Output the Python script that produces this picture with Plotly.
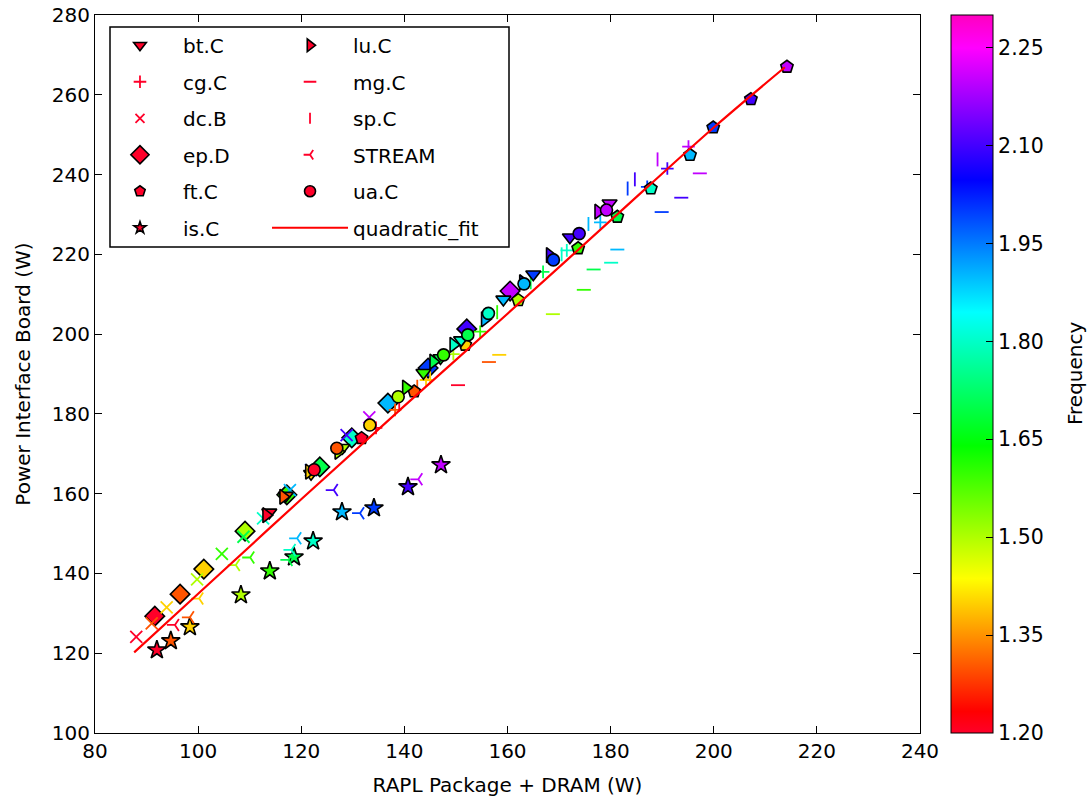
import plotly.graph_objects as go

# ---------------- data ----------------
FREQ = [1.2, 1.3, 1.4, 1.5, 1.6, 1.7, 1.8, 1.9, 2.0, 2.1, 2.2]

bt_x = [113.8, 117.0, 121.9, 128.0, 143.7, 147.0, 151.0, 159.2, 165.0, 172.1, 179.8]
bt_y = [155.3, 159.5, 165.0, 171.5, 190.3, 194.0, 198.5, 208.7, 215.0, 224.3, 232.8]

cg_x = [134.5, 138.2, 144.2, 149.5, 154.7, 166.9, 171.5, 178.0, 187.1, 191.0, 195.1]
cg_y = [176.5, 181.0, 188.5, 195.0, 200.6, 215.6, 221.0, 228.0, 236.9, 241.5, 247.0]

dc_x = [88.0, 91.0, 93.9, 99.8, 104.6, 108.8, 112.6, 117.8, 121.9, 128.8, 133.2]
dc_y = [124.1, 127.5, 131.5, 138.5, 144.9, 149.2, 153.8, 160.9, 165.9, 174.7, 179.1]

ep_x = [91.6, 96.5, 101.1, 109.1, 117.2, 123.6, 129.8, 136.8, 144.6, 152.1, 160.5]
ep_y = [129.3, 134.8, 141.1, 150.6, 159.7, 166.7, 174.0, 182.7, 191.5, 201.3, 210.8]

ft_x = [131.7, 141.9, 151.8, 162.1, 173.7, 181.3, 187.8, 195.4, 199.9, 207.2, 214.2]
ft_y = [173.9, 185.6, 197.3, 208.5, 221.5, 229.4, 236.5, 244.9, 251.8, 258.9, 267.0]

is_x = [92.0, 94.7, 98.4, 108.3, 113.9, 118.6, 122.3, 127.9, 134.1, 140.7, 147.1]
is_y = [120.8, 123.1, 126.6, 134.6, 140.6, 144.1, 148.1, 155.4, 156.4, 161.7, 167.2]

lu_x = [113.2, 116.5, 121.5, 127.2, 140.3, 145.6, 149.5, 155.6, 163.0, 168.2, 177.6]
lu_y = [154.6, 159.2, 165.5, 170.5, 186.6, 193.1, 197.3, 203.7, 213.0, 219.8, 230.7]

mg_x = [150.4, 156.4, 158.4, 168.8, 174.8, 176.7, 180.1, 181.3, 189.9, 193.7, 197.3]
mg_y = [187.2, 193.0, 194.8, 205.0, 211.1, 216.2, 217.9, 221.2, 230.6, 234.2, 240.3]

sp_x = [139.0, 142.5, 145.0, 152.5, 158.0, 164.5, 170.5, 175.7, 183.3, 184.7, 189.1]
sp_y = [182.3, 186.8, 189.2, 198.8, 205.5, 213.0, 220.0, 227.6, 236.5, 238.8, 243.8]

stream_x = [95.5, 98.4, 100.2, 107.3, 110.1, 117.5, 118.1, 119.2, 131.4, 126.3, 142.7]
stream_y = [127.1, 129.0, 133.7, 142.1, 144.0, 143.4, 145.9, 148.8, 155.1, 160.9, 163.6]

ua_x = [122.5, 126.9, 133.3, 138.8, 147.6, 152.3, 156.3, 163.2, 168.9, 173.9, 179.2]
ua_y = [166.0, 171.4, 177.2, 184.3, 194.8, 199.8, 205.2, 212.6, 218.6, 225.2, 231.1]

fit_x = [87.6, 100, 120, 140, 160, 180, 200, 213.8]
fit_y = [120.2, 134.9, 158.6, 182.0, 205.1, 228.5, 251.8, 266.9]

CB_TICKS = [1.20, 1.35, 1.50, 1.65, 1.80, 1.95, 2.10, 2.25]

# gist_rainbow
GIST_RAINBOW = [
    [0.000, "rgb(255,0,41)"],
    [0.030, "rgb(255,0,0)"],
    [0.215, "rgb(255,255,0)"],
    [0.400, "rgb(0,255,0)"],
    [0.586, "rgb(0,255,255)"],
    [0.770, "rgb(0,0,255)"],
    [0.954, "rgb(255,0,255)"],
    [1.000, "rgb(255,0,191)"],
]
LEGEND_RED = "rgb(255,0,41)"

FONT = "DejaVu Sans"
fig = go.Figure()

# (name, x, y, symbol, plot size, legend size, open?, legend id, rank)
SERIES = [
    ("ep.D", ep_x, ep_y, "diamond", 15, 14, False, "legend", 4),
    ("dc.B", dc_x, dc_y, "x-thin-open", 12, 9, True, "legend", 3),
    ("is.C", is_x, is_y, "star", 14, 9, False, "legend", 6),
    ("STREAM", stream_x, stream_y, "y-left-open", 10, 8, True, "legend2", 10),
    ("cg.C", cg_x, cg_y, "cross-thin-open", 9, 9, True, "legend", 2),
    ("mg.C", mg_x, mg_y, "line-ew-open", 10, 9, True, "legend2", 8),
    ("sp.C", sp_x, sp_y, "line-ns-open", 10, 8, True, "legend2", 9),
    ("ft.C", ft_x, ft_y, "pentagon", 13, 11, False, "legend", 5),
    ("bt.C", bt_x, bt_y, "triangle-down", 13, 11, False, "legend", 1),
    ("lu.C", lu_x, lu_y, "triangle-right", 13, 11, False, "legend2", 7),
    ("ua.C", ua_x, ua_y, "circle", 12, 11, False, "legend2", 11),
]

for name, xs, ys, sym, size, lsize, is_open, leg, rank in SERIES:
    if is_open:
        mline = dict(width=1.8)
        lline = dict(width=1.8)
    else:
        mline = dict(color="black", width=1.6)
        lline = dict(color="black", width=1.6)
    fig.add_trace(go.Scatter(
        x=xs, y=ys, mode="markers", name=name, showlegend=False,
        marker=dict(symbol=sym, size=size, color=FREQ, coloraxis="coloraxis", line=mline),
    ))
    # legend entry (drawn in the first colour of the scale, like the reference)
    fig.add_trace(go.Scatter(
        x=[None], y=[None], mode="markers", name=name, legend=leg, legendrank=rank,
        legendgroup=name,
        marker=dict(symbol=sym, size=lsize, color=LEGEND_RED, line=lline),
    ))

fig.add_trace(go.Scatter(
    x=fit_x, y=fit_y, mode="lines", name="quadratic_fit", legend="legend2",
    legendrank=12, legendgroup="quadratic_fit",
    line=dict(color="rgb(255,0,0)", width=2.2, shape="spline"),
))

axis_common = dict(
    showgrid=False, zeroline=False, showline=True, linecolor="black", linewidth=1,
    mirror="ticks", ticks="inside", ticklen=7, tickwidth=1, tickcolor="black",
    tickfont=dict(family=FONT, size=20, color="black"),
)

legend_common = dict(yanchor="top", xanchor="left", bgcolor="rgba(0,0,0,0)",
                     borderwidth=0, traceorder="grouped", tracegroupgap=7.5, itemwidth=76,
                     font=dict(family=FONT, size=20, color="black"))

fig.update_layout(
    width=1092, height=801,
    margin=dict(l=95, r=172, t=15, b=68, autoexpand=False),
    paper_bgcolor="white", plot_bgcolor="white",
    font=dict(family=FONT, size=20, color="black"),
    xaxis=dict(range=[80, 240], tickvals=[80, 100, 120, 140, 160, 180, 200, 220, 240],
               title=dict(text="RAPL Package + DRAM (W)", font=dict(family=FONT, size=20)),
               **axis_common),
    yaxis=dict(range=[100, 280], tickvals=[100, 120, 140, 160, 180, 200, 220, 240, 260, 280],
               title=dict(text="Power Interface Board (W)", font=dict(family=FONT, size=20)),
               **axis_common),
    coloraxis=dict(
        colorscale=GIST_RAINBOW, cmin=1.2, cmax=2.3,
        colorbar=dict(
            x=1.0376, xanchor="left", xpad=0, ypad=0,
            y=0.5, yanchor="middle", len=1, lenmode="fraction",
            thickness=42, thicknessmode="pixels",
            outlinewidth=1, outlinecolor="black",
            ticks="inside", ticklen=7, tickcolor="black",
            tickvals=CB_TICKS, ticktext=[f"{v:.2f}" for v in CB_TICKS],
            tickfont=dict(family=FONT, size=20.5, color="black"),
            title=dict(text=""),
        ),
    ),
    legend=dict(x=0.0024, y=0.985, **legend_common),
    legend2=dict(x=0.2085, y=0.985, **legend_common),
    shapes=[dict(type="rect", xref="paper", yref="paper",
                 x0=(110 - 95) / 825, x1=(509 - 95) / 825,
                 y0=(733 - 247) / 718, y1=(733 - 27) / 718,
                 line=dict(color="black", width=1.5), fillcolor="rgba(0,0,0,0)",
                 layer="above")],
    annotations=[dict(text="Frequency", xref="paper", yref="paper",
                      x=(1075 - 95) / 825, y=0.5, xanchor="center", yanchor="middle",
                      textangle=-90, showarrow=False,
                      font=dict(family=FONT, size=20, color="black"))],
)

fig.write_html("out.html")
